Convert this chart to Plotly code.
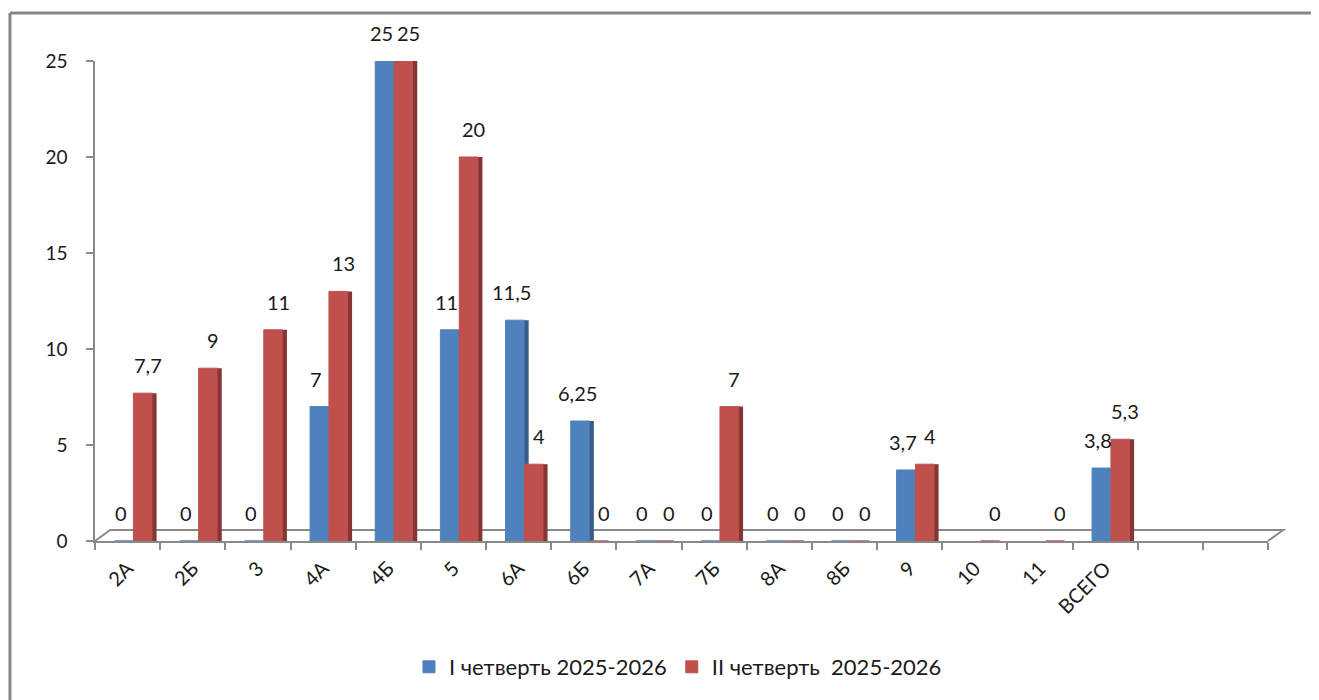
import plotly.graph_objects as go

categories = ["2А", "2Б", "3", "4А", "4Б", "5", "6А", "6Б", "7А", "7Б", "8А", "8Б", "9", "10", "11", "ВСЕГО"]
extra_categories = [" ", "  "]
series1_name = "I четверть 2025-2026"
series2_name = "II четверть  2025-2026"
series1 = [0, 0, 0, 7, 25, 11, 11.5, 6.25, 0, 0, 0, 0, 3.7, None, None, 3.8]
series2 = [7.7, 9, 11, 13, 25, 20, 4, 0, 0, 7, 0, 0, 4, 0, 0, 5.3]
y_ticks = [0, 5, 10, 15, 20, 25]


def fmt(v):
    if v is None:
        return ""
    return f"{v:g}".replace(".", ",")


FONT = "Lato, 'Open Sans', sans-serif"
TXT = "#1a1a1a"
BLUE, BLUE_SIDE = "#4F81BD", "#385D8A"
RED, RED_SIDE = "#C0504D", "#873533"
AXIS = "#898989"
NBSP = "\u00a0"

BAR_W = 0.29
SIDE_W = 0.065
OFF1 = -0.2
OFF2 = OFF1 + BAR_W
CAT_PX = 1173 / 18

fig = go.Figure()
fig.add_trace(go.Bar(
    x=categories, y=series1, name=series1_name, width=BAR_W, offset=OFF1,
    marker=dict(color=BLUE, line=dict(color=BLUE, width=1)), hoverinfo="skip",
))
fig.add_trace(go.Bar(
    x=categories, y=series1, showlegend=False, width=SIDE_W, offset=OFF1 + BAR_W,
    marker=dict(color=BLUE_SIDE, line=dict(width=0)), hoverinfo="skip",
))
fig.add_trace(go.Bar(
    x=categories, y=series2, name=series2_name, width=BAR_W, offset=OFF2,
    marker=dict(color=RED, line=dict(color=RED, width=1)), hoverinfo="skip",
))
fig.add_trace(go.Bar(
    x=categories, y=series2, showlegend=False, width=SIDE_W, offset=OFF2 + BAR_W,
    marker=dict(color=RED_SIDE, line=dict(width=0)), hoverinfo="skip",
))

annotations = []
for vals, off, extra in ((series1, OFF1, -3), (series2, OFF2, 5)):
    shift = (off + BAR_W / 2) * CAT_PX + extra
    for i, v in enumerate(vals):
        if v is None:
            continue
        annotations.append(dict(
            x=i, y=v, xref="x", yref="y", text=fmt(v), showarrow=False,
            xanchor="center", yanchor="bottom", xshift=shift, yshift=14,
            font=dict(size=20, family=FONT, color=TXT),
        ))

shapes = [
    # 3D floor back edge
    dict(type="path", xref="x domain", yref="y domain",
         path="M 0,0 L 0.013,0.023 L 1.013,0.023 L 1,0",
         line=dict(color=AXIS, width=2), fillcolor="rgba(0,0,0,0)", layer="below"),
    # outer chart border (left and top)
    dict(type="line", xref="paper", yref="paper", x0=-0.0725, x1=-0.0725, y0=1.1, y1=-0.4,
         line=dict(color="#868686", width=3)),
    dict(type="line", xref="paper", yref="paper", x0=-0.0725, x1=1.1, y0=1.1, y1=1.1,
         line=dict(color="#868686", width=3)),
]

fig.update_layout(
    width=1319, height=700,
    margin=dict(l=87, r=59, t=53, b=167),
    paper_bgcolor="white", plot_bgcolor="white",
    barmode="overlay",
    font=dict(family=FONT, color=TXT),
    showlegend=True,
    legend=dict(orientation="h", x=0.497, xanchor="center", y=-0.2625, yanchor="middle",
                font=dict(size=22, family=FONT, color=TXT), itemwidth=30,
                traceorder="normal"),
    shapes=shapes,
    annotations=annotations,
)
fig.update_xaxes(
    type="category", categoryorder="array", categoryarray=categories + extra_categories,
    range=[-0.5, len(categories) + len(extra_categories) - 0.5],
    showline=True, linecolor=AXIS, linewidth=2,
    ticks="outside", tickson="boundaries", ticklen=7, tickcolor=AXIS, tickwidth=2,
    tickangle=-45, tickfont=dict(size=20, family=FONT, color=TXT),
    showgrid=False, zeroline=False, ticklabelstandoff=6,
)
fig.update_yaxes(
    range=[0, 25], tickvals=y_ticks, ticktext=[str(t) + NBSP * 3 for t in y_ticks],
    showline=True, linecolor=AXIS, linewidth=2,
    ticks="outside", ticklen=7, tickcolor=AXIS, tickwidth=2,
    tickfont=dict(size=19, family=FONT, color=TXT),
    showgrid=False, zeroline=False,
)

fig.write_html("out.html")
